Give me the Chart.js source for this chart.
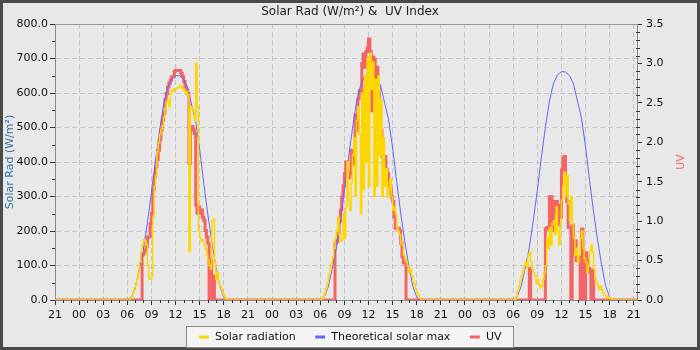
<!DOCTYPE html>
<html>
<head>
<meta charset="utf-8">
<title>Solar Rad &amp; UV Index</title>
<script src="https://cdn.jsdelivr.net/npm/chart.js@4.4.1/dist/chart.umd.min.js"></script>
<style>
  html, body { margin: 0; padding: 0; background: #e8e8e8; }
  #wrap { width: 700px; height: 350px; }
</style>
</head>
<body>
<div id="wrap"><canvas id="solarChart" width="700" height="350"></canvas></div>
<script>
// x axis is "hours since 21:00 on the first evening"
const xMax = 72.4;
const dayMidnight = [3, 27, 51];          // 00:00 of the three days shown

// Solar radiation (W/m²), one reading every 10 min from 06:00
const solarStart = 6;
const solarStep = 10 / 60;
const solarDay1 = [0, 0, 4, 10, 20, 30, 45, 62, 80, 110, 140, 160, 175, 170, 160, 100, 62, 60, 70, 240,
  330, 360, 430, 455, 480, 495, 505, 530, 555, 575, 580, 560, 598, 608, 605, 612, 612, 615, 618, 622,
  615, 612, 608, 600, 605, 596, 140, 560, 555, 545, 520, 686, 560, 200, 180, 170, 175, 160, 150, 130,
  115, 100, 90, 230, 235, 110, 60, 80, 50, 40, 30, 20, 12, 5, 0];
const solarDay2 = [0, 3, 10, 20, 35, 50, 70, 90, 105, 125, 150, 180, 200, 240, 190, 170, 175, 250, 180, 270,
  400, 290, 260, 340, 420, 470, 300, 520, 560, 480, 250, 600, 320, 650, 400, 700, 330, 715, 610, 690,
  300, 640, 330, 650, 420, 580, 300, 470, 330, 380, 300, 320, 350, 300, 260, 270, 250, 210, 200, 190,
  165, 160, 130, 120, 110, 100, 80, 90, 70, 55, 45, 30, 20, 12, 5, 0];
const solarDay3 = [0, 3, 10, 25, 40, 55, 70, 85, 100, 110, 95, 130, 140, 110, 90, 80, 70, 50, 60, 45,
  35, 40, 60, 80, 100, 180, 150, 210, 160, 220, 230, 190, 270, 200, 160, 220, 290, 330, 370, 300,
  360, 280, 230, 300, 220, 180, 130, 150, 110, 130, 180, 200, 150, 120, 110, 80, 100, 140, 160, 140,
  90, 60, 50, 40, 30, 40, 30, 20, 15, 10, 5, 8, 5, 3, 0];

// Theoretical solar max (W/m²), every 30 min from 06:00
const maxStart = 6;
const maxStep = 0.5;
const maxDay1 = [0, 8, 38, 90, 148, 225, 312, 405, 490, 565, 615, 640, 650, 650, 640, 615, 565, 517, 436, 340, 250, 170, 100, 40, 8, 0];
const maxDay2 = [0, 9, 39, 92, 150, 228, 316, 410, 496, 572, 622, 648, 657, 657, 647, 622, 572, 523, 441, 344, 253, 172, 101, 40, 8, 0];
const maxDay3 = [0, 10, 40, 93, 152, 230, 318, 413, 500, 576, 627, 652, 662, 661, 651, 626, 576, 527, 444, 346, 255, 173, 102, 41, 8, 0];

// UV index, every 10 min from 07:40
const uvStart = 7 + 40 / 60;
const uvStep = 10 / 60;
const uvDay1 = [0, 0.57, 0.6, 0.63, 0.68, 0.8, 0.8, 0.97, 1.1, 1.4, 1.56, 1.69, 1.78, 1.9, 2.03, 2.16, 2.28, 2.37,
  2.54, 2.62, 2.7, 2.75, 2.79, 2.83, 2.83, 2.9, 2.91, 2.91, 2.91, 2.91, 2.87, 2.83, 2.77, 2.7, 2.66, 2.62,
  1.73, 2.2, 2.2, 2.16, 2.11, 1.2, 1.1, 1.18, 1.1, 1.14, 1.05, 1.01, 0.88, 0.8, 0.72, 0, 0.5, 0, 0.3, 0];
const uvDay2 = [0, 0.72, 0.74, 0.85, 1.0, 1.14, 1.31, 1.45, 1.6, 1.75, 1.62, 1.55, 1.6, 1.9, 1.75, 1.72, 2.35, 2.15,
  2.55, 2.65, 2.65, 3.0, 3.12, 2.95, 3.15, 3.2, 3.31, 3.15, 2.4, 3.08, 3.05, 2.7, 2.95, 2.7, 2.2, 2.15,
  1.82, 1.82, 1.82, 1.65, 1.6, 1.52, 1.4, 1.31, 1.25, 1.06, 0.91, 0.91, 0.91, 0.88, 0.72, 0.55, 0.47, 0.47, 0];
const uvDay3 = [0, 0, 0.4, 0, 0, 0, 0, 0, 0, 0, 0, 0, 0, 0, 0.9, 0.92, 0.9, 1.31, 1.31, 0.88, 1.25, 1.1, 1.25, 0.95,
  1.2, 1.05, 1.65, 1.8, 1.82, 1.55, 1.25, 0.92, 0.92, 0, 0.95, 0.6, 0.75, 0.5, 0.55, 0.55, 0, 0.9, 0.6, 0,
  0.6, 0.5, 0.4, 0.35, 0, 0.38, 0];

const hourLabel = v => String((21 + Math.round(v)) % 24).padStart(2, '0');

function buildPoints(days, start, step) {
  const pts = [{ x: 0, y: 0 }];
  days.forEach((vals, d) => {
    vals.forEach((v, i) => pts.push({ x: dayMidnight[d] + start + i * step, y: v }));
  });
  pts.push({ x: xMax, y: 0 });
  return pts;
}

// background, outer frame, legend box and the right axis title
const frame = {
  id: 'frame',
  afterLayout(chart) {
    // move the legend row down into its box (the legend clips to its own area)
    const lg = chart.legend;
    const shift = 337 - (lg.top + lg.options.labels.padding + 5.5);
    lg.top += shift;
    lg.bottom = chart.height;
    lg.height = lg.bottom - lg.top;
  },
  beforeDraw(chart) {
    const { ctx, width, height } = chart;
    ctx.save();
    ctx.fillStyle = '#e8e8e8';
    ctx.fillRect(0, 0, width, height);
    ctx.strokeStyle = '#4a4a4a';
    ctx.lineWidth = 3;
    ctx.strokeRect(1.5, 1.5, width - 3, height - 3);

    const left = width / 2 - 163.5;
    ctx.fillStyle = '#f4f4f4';
    ctx.fillRect(left, 326.5, 327, 21);
    ctx.strokeStyle = '#8a8a8a';
    ctx.lineWidth = 1;
    ctx.strokeRect(left, 326.5, 327, 21);
    ctx.restore();
  },
  beforeDatasetsDraw(chart) {
    const { ctx, chartArea: a } = chart;
    ctx.save();
    ctx.strokeStyle = '#999';
    ctx.lineWidth = 1;
    ctx.beginPath();
    ctx.moveTo(a.left, Math.round(a.top) + 0.5);
    ctx.lineTo(a.right, Math.round(a.top) + 0.5);
    ctx.stroke();
    ctx.restore();
  },
  afterDraw(chart) {
    // "UV" reads bottom to top, like the left title
    const { ctx, chartArea: a } = chart;
    ctx.save();
    ctx.translate(681, (a.top + a.bottom) / 2);
    ctx.rotate(-Math.PI / 2);
    ctx.fillStyle = '#f46464';
    ctx.font = "11px 'DejaVu Sans', sans-serif";
    ctx.textAlign = 'center';
    ctx.textBaseline = 'middle';
    ctx.fillText('UV', 0, 0);
    ctx.restore();
  }
};

// short minor tick marks: every hour, every 50 W/m², every 0.1 UV
const minorTicks = {
  id: 'minorTicks',
  afterDraw(chart) {
    const { ctx, chartArea: a, scales: { x, y, y1 } } = chart;
    ctx.save();
    ctx.strokeStyle = '#333';
    ctx.lineWidth = 1;
    ctx.beginPath();
    for (let h = 1; h < x.max; h++) {
      if (h % 3 === 0) continue;
      const px = Math.round(x.getPixelForValue(h)) + 0.5;
      ctx.moveTo(px, a.bottom);
      ctx.lineTo(px, a.bottom + 3);
    }
    for (let v = 50; v < y.max; v += 100) {
      const py = Math.round(y.getPixelForValue(v)) + 0.5;
      ctx.moveTo(a.left - 3, py);
      ctx.lineTo(a.left, py);
    }
    for (let k = 1; k < y1.max * 10; k++) {
      if (k % 5 === 0) continue;
      const py = Math.round(y1.getPixelForValue(k / 10)) + 0.5;
      ctx.moveTo(a.right - 1, py);
      ctx.lineTo(a.right + 3, py);
    }
    ctx.stroke();
    ctx.restore();
  }
};

Chart.defaults.font.family = "'DejaVu Sans', sans-serif";
Chart.defaults.font.size = 11;
Chart.defaults.color = '#111';

const gridLines = { color: '#c4c4c4', tickColor: '#333', tickLength: 5 };

new Chart(document.getElementById('solarChart'), {
  type: 'line',
  data: {
    datasets: [
      {
        label: 'Solar radiation',
        data: buildPoints([solarDay1, solarDay2, solarDay3], solarStart, solarStep),
        yAxisID: 'y',
        borderColor: '#ffd700',
        backgroundColor: '#ffd700',
        borderWidth: 1.5,
        pointRadius: 0,
        stepped: true,
        fill: false
      },
      {
        label: 'Theoretical solar max',
        data: buildPoints([maxDay1, maxDay2, maxDay3], maxStart, maxStep),
        yAxisID: 'y',
        borderColor: '#6464ff',
        backgroundColor: '#6464ff',
        borderWidth: 1,
        pointRadius: 0,
        fill: false
      },
      {
        label: 'UV',
        data: buildPoints([uvDay1, uvDay2, uvDay3], uvStart, uvStep),
        yAxisID: 'y1',
        borderColor: '#f46464',
        backgroundColor: '#f46464',
        borderWidth: 3,
        pointRadius: 0,
        stepped: true,
        fill: false,
        clip: { left: 0, top: 3, right: 0, bottom: 0 }
      }
    ]
  },
  options: {
    responsive: false,
    animation: false,
    layout: { padding: { top: 2, left: 0, right: 0, bottom: 0 } },
    plugins: {
      title: {
        display: true,
        text: 'Solar Rad (W/m²) &  UV Index',
        color: '#222',
        font: { size: 12, weight: 'normal' },
        padding: { top: 3, bottom: 4.6 }
      },
      legend: {
        position: 'bottom',
        maxHeight: 26,
        labels: {
          usePointStyle: true,
          pointStyle: 'line',
          boxHeight: 7,
          padding: 19,
          color: '#111',
          font: { size: 11 },
          generateLabels(chart) {
            const items = Chart.defaults.plugins.legend.labels.generateLabels(chart);
            items.forEach(it => { it.lineWidth = 3; });
            return items;
          }
        }
      },
      tooltip: { enabled: false }
    },
    scales: {
      x: {
        type: 'linear',
        min: 0,
        max: xMax,
        grid: gridLines,
        border: { color: '#888', dash: [5, 3] },
        ticks: {
          stepSize: 3,
          includeBounds: false,
          autoSkip: false,
          maxRotation: 0,
          padding: 4,
          callback: v => hourLabel(v)
        },
        afterFit(scale) { scale.height = 350 - 300 - scale.chart.legend.height; }
      },
      y: {
        position: 'left',
        min: 0,
        max: 800,
        grid: gridLines,
        border: { color: '#888', dash: [5, 3] },
        ticks: { stepSize: 100, padding: 2, callback: v => v.toFixed(1) },
        title: {
          display: true,
          text: 'Solar Rad (W/m²)',
          color: '#2f74a8',
          font: { size: 11 },
          padding: { top: 3.4, bottom: 0 }
        },
        afterFit(scale) { scale.width = 55; }
      },
      y1: {
        position: 'right',
        min: 0,
        max: 3.5,
        grid: { drawOnChartArea: false, color: '#c4c4c4', tickColor: '#333', tickLength: 5 },
        border: { color: '#888' },
        ticks: { stepSize: 0.5, padding: 4, callback: v => v.toFixed(1) },
        afterFit(scale) { scale.width = 63; }
      }
    }
  },
  plugins: [frame, minorTicks]
});
</script>
</body>
</html>
